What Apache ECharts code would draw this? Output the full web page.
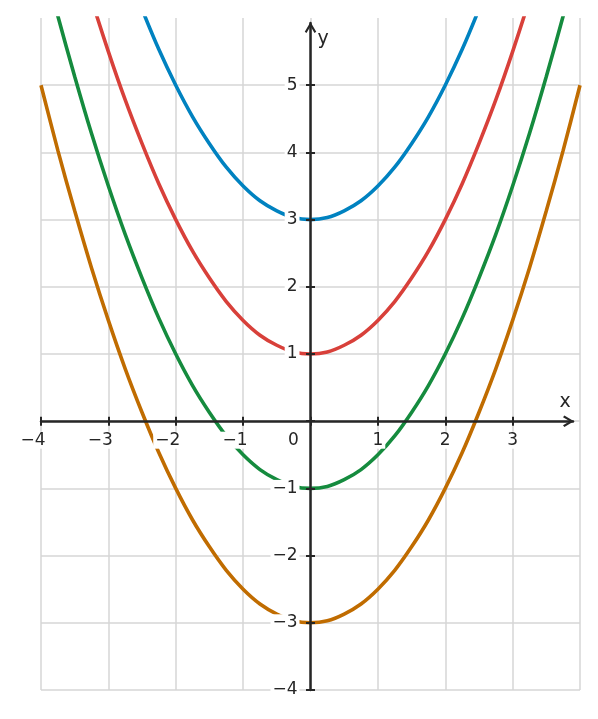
<!DOCTYPE html>
<html>
<head>
<meta charset="utf-8">
<script src="https://cdn.jsdelivr.net/npm/echarts@6/dist/echarts.min.js"></script>
<style>
html,body{margin:0;padding:0;background:#fff;}
#chart{width:598px;height:719px;}
</style>
</head>
<body>
<div id="chart"></div>
<script>
// x positions where the curves were read
const xValues = [-4, -3.75, -3.5, -3.25, -3, -2.75, -2.5, -2.25, -2, -1.75, -1.5, -1.25, -1, -0.75, -0.5, -0.25, 0,
                 0.25, 0.5, 0.75, 1, 1.25, 1.5, 1.75, 2, 2.25, 2.5, 2.75, 3, 3.25, 3.5, 3.75, 4];
// curve values
const blueY = [11, 10.03, 9.13, 8.28, 7.5, 6.78, 6.13, 5.53, 5, 4.53, 4.13, 3.78, 3.5, 3.28, 3.13, 3.03, 3,
               3.03, 3.13, 3.28, 3.5, 3.78, 4.13, 4.53, 5, 5.53, 6.13, 6.78, 7.5, 8.28, 9.13, 10.03, 11];
const redY = [9, 8.03, 7.13, 6.28, 5.5, 4.78, 4.13, 3.53, 3, 2.53, 2.13, 1.78, 1.5, 1.28, 1.13, 1.03, 1,
              1.03, 1.13, 1.28, 1.5, 1.78, 2.13, 2.53, 3, 3.53, 4.13, 4.78, 5.5, 6.28, 7.13, 8.03, 9];
const greenY = [7, 6.03, 5.13, 4.28, 3.5, 2.78, 2.13, 1.53, 1, 0.53, 0.13, -0.22, -0.5, -0.72, -0.87, -0.97, -1,
                -0.97, -0.87, -0.72, -0.5, -0.22, 0.13, 0.53, 1, 1.53, 2.13, 2.78, 3.5, 4.28, 5.13, 6.03, 7];
const orangeY = [5, 4.03, 3.13, 2.28, 1.5, 0.78, 0.13, -0.47, -1, -1.47, -1.87, -2.22, -2.5, -2.72, -2.87, -2.97, -3,
                 -2.97, -2.87, -2.72, -2.5, -2.22, -1.87, -1.47, -1, -0.47, 0.13, 0.78, 1.5, 2.28, 3.13, 4.03, 5];
// tick labels
const xTickValues = [-4, -3, -2, -1, 0, 1, 2, 3];
const yTickValues = [-4, -3, -2, -1, 0, 1, 2, 3, 4, 5];
const yLabelValues = [-4, -3, -2, -1, 1, 2, 3, 4, 5];
const xName = 'x';
const yName = 'y';

const FONT = 'DejaVu Sans';
const INK = '#262626';
const chevron = 'path://M5,0 L10,8.4 L8.5,9.6 L5,3.6 L1.5,9.6 L0,8.4 Z';

// plot geometry (pixels per unit) used to place the axes through the origin
const X_MIN = -4, X_MAX = 4, Y_MIN = -4, Y_MAX = 6;
const G_LEFT = 41, G_RIGHT = 18, G_TOP = 18, G_BOTTOM = 29;
const W = 598, H = 719;
const pxX = (W - G_LEFT - G_RIGHT) / (X_MAX - X_MIN);
const pxY = (H - G_TOP - G_BOTTOM) / (Y_MAX - Y_MIN);
const A_RIGHT = 25, A_TOP = 23;
const axXMax = X_MIN + (W - G_LEFT - A_RIGHT) / pxX;
const axYMax = Y_MIN + (H - A_TOP - G_BOTTOM) / pxY;
const xAxisOffset = -(0 - Y_MIN) * pxY;   // bottom axis moved up to y = 0
const yAxisOffset = -(0 - X_MIN) * pxX;   // left axis moved right to x = 0

function fmtNum(v) { return v < 0 ? '\u2212' + Math.abs(v) : String(v); }

const chart = echarts.init(document.getElementById('chart'), null, {renderer: 'canvas'});

const lineStyleBase = {color: INK, width: 2.5};
const mk = (ys) => xValues.map((x, i) => [x, ys[i]]);
const tickStyle = {color: INK, width: 2};

const option = {
  animation: false,
  backgroundColor: '#fff',
  textStyle: {fontFamily: FONT},
  grid: [
    {left: G_LEFT, right: G_RIGHT, top: G_TOP, bottom: G_BOTTOM},
    {left: G_LEFT, right: A_RIGHT, top: A_TOP, bottom: G_BOTTOM}
  ],
  xAxis: [
    {
      gridIndex: 0, type: 'value', min: X_MIN, max: X_MAX, interval: 1,
      axisLine: {show: false}, axisTick: {show: false}, axisLabel: {show: false},
      splitLine: {show: true, showMinLine: true, showMaxLine: true, lineStyle: {color: '#d6d6d6', width: 1.5}}
    },
    {
      gridIndex: 1, type: 'value', min: X_MIN, max: axXMax, interval: 1, position: 'bottom', offset: xAxisOffset, z: 5,
      axisLine: {show: true, onZero: false, lineStyle: lineStyleBase,
                 symbol: ['none', chevron], symbolSize: [14, 11], symbolOffset: [0, -4.5]},
      axisTick: {show: true, inside: false, length: 4.5, customValues: xTickValues, lineStyle: tickStyle},
      axisLabel: {
        show: true, margin: 9, customValues: xTickValues,
        formatter: function (v) {
          if (v < 0) return '{t|' + fmtNum(v) + '}{s| }';
          if (v === 0) return '{t|0}{z| }';
          return '{t|' + v + '}';
        },
        rich: {
          t: {fontFamily: FONT, fontSize: 17, color: INK, backgroundColor: '#fff', padding: [0, 2], lineHeight: 20},
          s: {width: 16, fontSize: 17},
          z: {width: 34, fontSize: 17}
        }
      },
      splitLine: {show: false},
      name: xName, nameLocation: 'end', nameGap: -8,
      nameTextStyle: {fontFamily: FONT, fontSize: 19, color: INK, align: 'center', verticalAlign: 'bottom', lineHeight: 20, padding: [0, 0, 9, 0]}
    },
    {
      gridIndex: 1, type: 'value', min: X_MIN, max: axXMax, interval: 1, position: 'bottom', offset: xAxisOffset, z: 5,
      axisLine: {show: false, onZero: false},
      axisTick: {show: true, inside: true, length: 4.5, customValues: xTickValues, lineStyle: tickStyle},
      axisLabel: {show: false}, splitLine: {show: false}
    }
  ],
  yAxis: [
    {
      gridIndex: 0, type: 'value', min: Y_MIN, max: Y_MAX, interval: 1,
      axisLine: {show: false}, axisTick: {show: false}, axisLabel: {show: false},
      splitLine: {show: true, showMinLine: true, showMaxLine: false, lineStyle: {color: '#d6d6d6', width: 1.5}}
    },
    {
      gridIndex: 1, type: 'value', min: Y_MIN, max: axYMax, interval: 1, position: 'left', offset: yAxisOffset, z: 5,
      axisLine: {show: true, onZero: false, lineStyle: lineStyleBase,
                 symbol: ['none', chevron], symbolSize: [13, 11], symbolOffset: [0, -4.5]},
      axisTick: {show: true, inside: false, length: 4.5, customValues: yTickValues, lineStyle: tickStyle},
      axisLabel: {
        show: true, margin: 11, customValues: yLabelValues,
        formatter: function (v) { return fmtNum(v); },
        fontFamily: FONT, fontSize: 17, color: INK, backgroundColor: '#fff', padding: [0, 2]
      },
      splitLine: {show: false},
      name: yName, nameLocation: 'end', nameGap: -6,
      nameTextStyle: {fontFamily: FONT, fontSize: 19, color: INK, align: 'left', verticalAlign: 'top', lineHeight: 20, padding: [0, 0, 0, 7]}
    },
    {
      gridIndex: 1, type: 'value', min: Y_MIN, max: axYMax, interval: 1, position: 'left', offset: yAxisOffset, z: 5,
      axisLine: {show: false, onZero: false},
      axisTick: {show: true, inside: true, length: 4.5, customValues: yTickValues, lineStyle: tickStyle},
      axisLabel: {show: false}, splitLine: {show: false}
    }
  ],
  series: [
    {type: 'line', xAxisIndex: 0, yAxisIndex: 0, data: mk(blueY), showSymbol: false, smooth: 0.3, clip: true,
     lineStyle: {color: '#0082C0', width: 3.6}, itemStyle: {color: '#0082C0'}},
    {type: 'line', xAxisIndex: 0, yAxisIndex: 0, data: mk(redY), showSymbol: false, smooth: 0.3, clip: true,
     lineStyle: {color: '#D8403A', width: 3.6}, itemStyle: {color: '#D8403A'}},
    {type: 'line', xAxisIndex: 0, yAxisIndex: 0, data: mk(greenY), showSymbol: false, smooth: 0.3, clip: true,
     lineStyle: {color: '#158B3E', width: 3.6}, itemStyle: {color: '#158B3E'}},
    {type: 'line', xAxisIndex: 0, yAxisIndex: 0, data: mk(orangeY), showSymbol: false, smooth: 0.3, clip: true,
     lineStyle: {color: '#C06C00', width: 3.6}, itemStyle: {color: '#C06C00'}}
  ]
};
chart.setOption(option);
</script>
</body>
</html>
